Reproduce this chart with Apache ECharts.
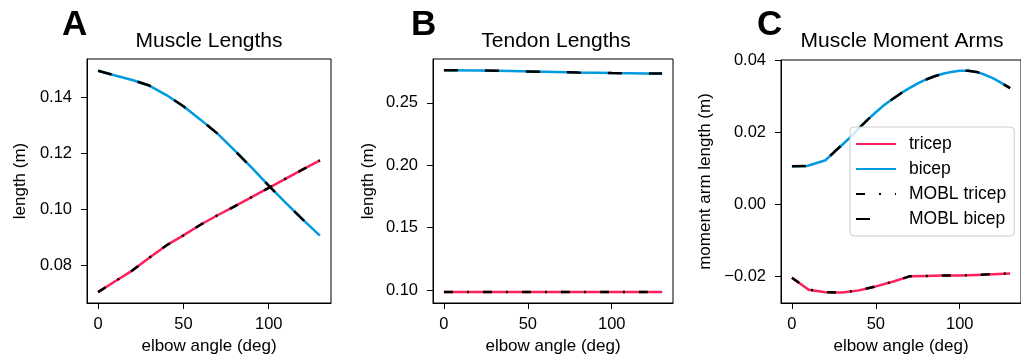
<!DOCTYPE html>
<html>
<head>
<meta charset="utf-8">
<script src="https://cdn.jsdelivr.net/npm/echarts@6/dist/echarts.min.js"></script>
<style>
html,body{margin:0;padding:0;background:#fff;}
#chart{width:1021px;height:362px;}
</style>
</head>
<body>
<div id="chart"></div>
<script>
// ---- data ----
const panelLetters = ['A', 'B', 'C'];
const panelTitles = ['Muscle Lengths', 'Tendon Lengths', 'Muscle Moment Arms'];
const xLabel = 'elbow angle (deg)';
const yLabels = ['length (m)', 'length (m)', 'moment arm length (m)'];
const seriesNames = ['tricep', 'bicep', 'MOBL tricep', 'MOBL bicep'];
const xTicks = [0, 50, 100];
const yTicksA = [0.08, 0.10, 0.12, 0.14];
const yTicksB = [0.10, 0.15, 0.20, 0.25];
const yTicksC = [-0.02, 0.00, 0.02, 0.04];

// Panel A: muscle lengths
const angleA = [0, 10, 20, 30, 40, 50, 60, 70, 80, 90, 100, 110, 120, 130];
const muscleTricep = [0.0703, 0.0742, 0.0780, 0.0826, 0.0870, 0.0906, 0.0944, 0.0978, 0.1010, 0.1043, 0.1076, 0.1109, 0.1142, 0.1174];
const muscleBicep = [0.1495, 0.1478, 0.1462, 0.1442, 0.1408, 0.1368, 0.1320, 0.1270, 0.1210, 0.1148, 0.1084, 0.1022, 0.0962, 0.0905];
const moblMuscleTricep = muscleTricep;
const moblMuscleBicep = muscleBicep;

// Panel B: tendon lengths
const angleB = [0, 20, 40, 60, 80, 100, 120, 130];
const tendonTricep = [0.0985, 0.0985, 0.0985, 0.0985, 0.0985, 0.0985, 0.0985, 0.0985];
const tendonBicep = [0.2762, 0.2760, 0.2755, 0.2749, 0.2743, 0.2739, 0.2736, 0.2736];
const moblTendonTricep = tendonTricep;
const moblTendonBicep = tendonBicep;

// Panel C: moment arms
const angleCtri = [0, 10, 20, 30, 40, 50, 60, 70, 80, 90, 100, 110, 120, 130];
const armTricep = [-0.0203, -0.0236, -0.0243, -0.0244, -0.0238, -0.0227, -0.0214, -0.0199, -0.0198, -0.0197, -0.0197, -0.0195, -0.0193, -0.0191];
const angleCbi = [0, 9, 20, 25, 30, 35, 40, 45, 50, 55, 60, 65, 70, 75, 80, 85, 90, 95, 100, 105, 110, 115, 120, 125, 130];
const armBicep = [0.0106, 0.0107, 0.0123, 0.0145, 0.0166, 0.0188, 0.0212, 0.0235, 0.0256, 0.0276, 0.0293, 0.0309, 0.0323, 0.0336, 0.0347, 0.0356, 0.0363, 0.0368, 0.0371, 0.0371, 0.0368, 0.0360, 0.0350, 0.0337, 0.0323];
const moblArmTricep = armTricep;
const moblArmBicep = armBicep;

// ---- styling ----
const FONT = 'Liberation Sans, Arial, sans-serif';
const RED = '#FF1F5B';
const BLUE = '#009ADE';
const TICK_FS = 16.5;
const NAME_FS = 17;

const grids = [
  {left: 87, top: 59, width: 244, height: 244},
  {left: 433, top: 59, width: 240, height: 244},
  {left: 781, top: 60, width: 242, height: 243}
];
const yRanges = [[0.0664, 0.1537], [0.0896, 0.2852], [-0.0273, 0.0401]];
const yTicks = [yTicksA, yTicksB, yTicksC];
const yNameGaps = [58, 56, 67];

function fmtY(v) {
  const s = Math.abs(v).toFixed(2);
  return v < -1e-9 ? '\u2212' + s : s;
}
function pairs(xs, ys) { return xs.map((x, i) => [x, ys[i]]); }

const option = {
  animation: false,
  backgroundColor: '#fff',
  textStyle: {fontFamily: FONT},
  title: [],
  grid: grids.map(g => Object.assign({show: true, borderColor: '#000', borderWidth: 1, containLabel: false}, g)),
  xAxis: grids.map((g, i) => ({
    gridIndex: i, type: 'value', min: -6.5, max: 136.5,
    name: xLabel, nameLocation: 'middle', nameGap: 31,
    nameTextStyle: {fontSize: NAME_FS, color: '#000', fontFamily: FONT},
    axisLine: {show: true, onZero: false, lineStyle: {color: '#000', width: 1}},
    axisTick: {show: true, inside: false, length: 6, lineStyle: {color: '#000', width: 1}, customValues: xTicks},
    axisLabel: {show: true, margin: 13, fontSize: TICK_FS, color: '#000', fontFamily: FONT, customValues: xTicks, formatter: v => String(v)},
    splitLine: {show: false}
  })),
  yAxis: grids.map((g, i) => ({
    gridIndex: i, type: 'value', min: yRanges[i][0], max: yRanges[i][1],
    name: yLabels[i], nameLocation: 'middle', nameGap: yNameGaps[i], nameRotate: 90,
    nameTextStyle: {fontSize: NAME_FS, color: '#000', fontFamily: FONT},
    axisLine: {show: true, onZero: false, lineStyle: {color: '#000', width: 1}},
    axisTick: {show: true, inside: false, length: 6, lineStyle: {color: '#000', width: 1}, customValues: yTicks[i]},
    axisLabel: {show: true, margin: 15, fontSize: TICK_FS, color: '#000', fontFamily: FONT, customValues: yTicks[i], formatter: fmtY},
    splitLine: {show: false}
  })),
  legend: {
    show: true,
    left: 850, top: 127,
    orient: 'vertical',
    data: seriesNames,
    itemWidth: 40, itemHeight: 14, itemGap: 7,
    padding: [8, 8, 8, 5],
    borderColor: '#cccccc', borderWidth: 1, borderRadius: 4,
    backgroundColor: 'rgba(255,255,255,0.8)',
    itemStyle: {opacity: 0},
    textStyle: {fontSize: 17.5, color: '#000', fontFamily: FONT, padding: [0, 0, 0, 8]},
    selectedMode: false
  },
  series: []
};

const titleCenters = [209, 556, 902];
panelTitles.forEach((t, i) => {
  option.title.push({text: t, left: titleCenters[i], top: 31, textAlign: 'center', padding: 0,
    textStyle: {fontSize: 21, fontWeight: 'normal', color: '#000', fontFamily: FONT}});
});
const letterLefts = [62, 411, 757];
panelLetters.forEach((t, i) => {
  option.title.push({text: t, left: letterLefts[i], top: 8, padding: 0,
    textStyle: {fontSize: 35, fontWeight: 'bold', color: '#000', fontFamily: FONT}});
});

const panelData = [
  [pairs(angleA, muscleTricep), pairs(angleA, muscleBicep), pairs(angleA, moblMuscleTricep), pairs(angleA, moblMuscleBicep)],
  [pairs(angleB, tendonTricep), pairs(angleB, tendonBicep), pairs(angleB, moblTendonTricep), pairs(angleB, moblTendonBicep)],
  [pairs(angleCtri, armTricep), pairs(angleCbi, armBicep), pairs(angleCtri, moblArmTricep), pairs(angleCbi, moblArmBicep)]
];
const styles = [
  {color: RED, width: 2.5, type: 'solid'},
  {color: BLUE, width: 2.5, type: 'solid'},
  {color: '#000', width: 2.5, type: [9, 14, 2, 14]},
  {color: '#000', width: 2.5, type: [14, 27]}
];
panelData.forEach((sets, p) => {
  sets.forEach((d, k) => {
    option.series.push({
      name: seriesNames[k], type: 'line', xAxisIndex: p, yAxisIndex: p,
      data: d, symbol: 'none', showSymbol: false, smooth: false,
      color: styles[k].color,
      lineStyle: {color: styles[k].color, width: styles[k].width, type: styles[k].type, cap: 'butt'},
      emphasis: {disabled: true}, silent: true, clip: true
    });
  });
});

const chart = echarts.init(document.getElementById('chart'), null, {renderer: 'canvas'});
chart.setOption(option);
</script>
</body>
</html>
